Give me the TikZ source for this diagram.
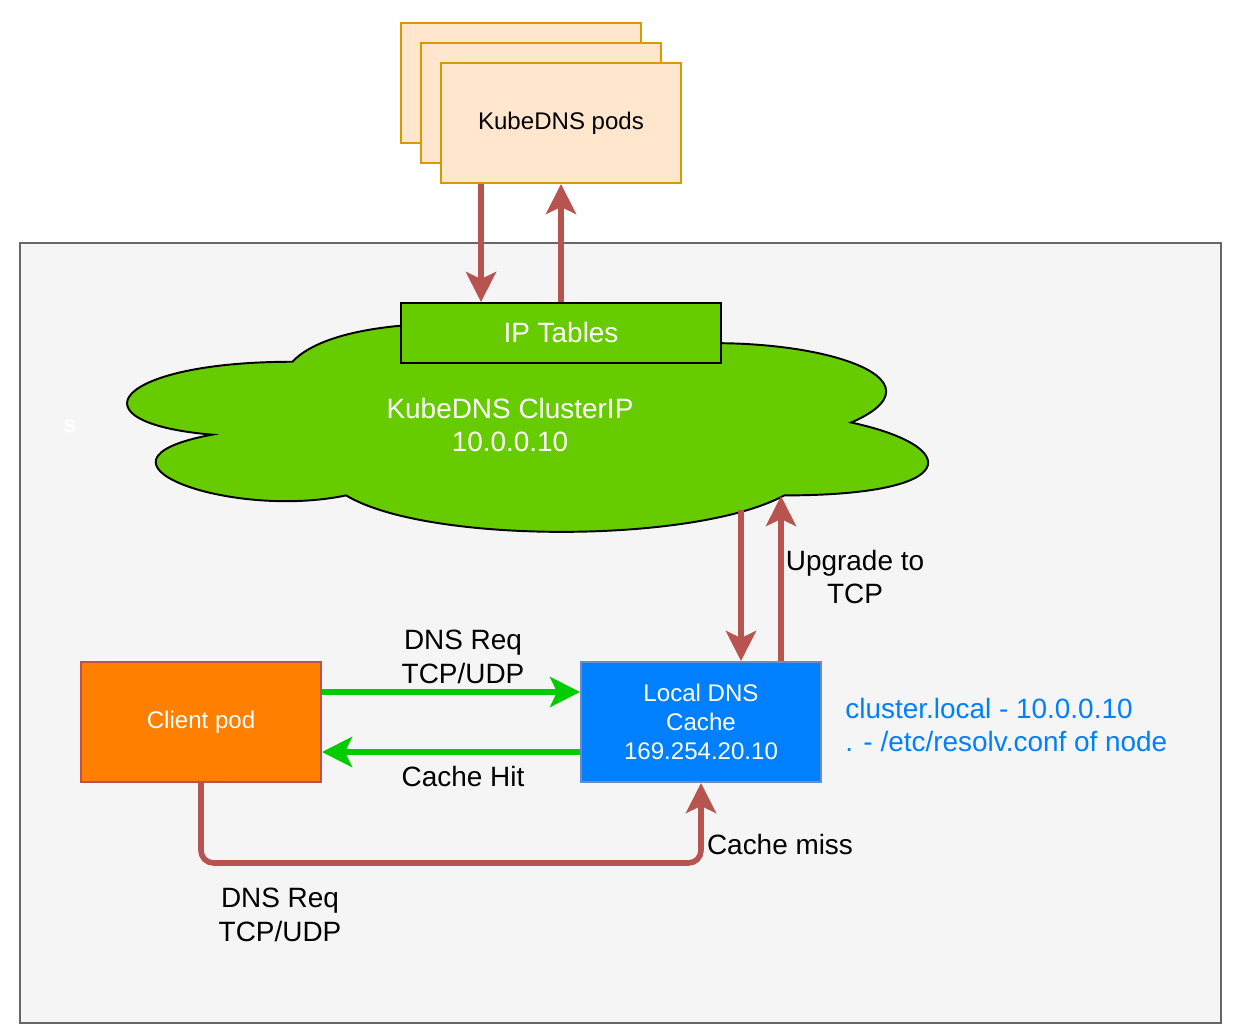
\documentclass[tikz,border=0pt]{standalone}
\usepackage{fontspec}
\setmainfont{Liberation Sans}
\usetikzlibrary{arrows.meta}

\definecolor{podfill}{HTML}{FFE6CC}
\definecolor{podline}{HTML}{D79B00}
\definecolor{nodegreen}{HTML}{66CC00}
\definecolor{clientfill}{HTML}{FF8000}
\definecolor{cachefill}{HTML}{007FFF}
\definecolor{cacheline}{HTML}{6C8EBF}
\definecolor{arrowred}{HTML}{B85450}
\definecolor{arrowgreen}{HTML}{00CC00}
\definecolor{framefill}{HTML}{F5F5F5}
\definecolor{frameline}{HTML}{666666}

\newcommand{\bigtxt}{\fontsize{15.9pt}{19.1pt}\selectfont}
\newcommand{\smalltxt}{\fontsize{13.7pt}{16.4pt}\selectfont}

\tikzset{
  box/.style={draw, line width=1.1pt, minimum width=4.8cm, minimum height=2.4cm,
    align=center, inner sep=0pt, font=\smalltxt},
  podbox/.style={box, fill=podfill, draw=podline},
  redarrow/.style={draw=arrowred, line width=3.2pt,
    -{Stealth[length=0.6cm,width=0.6cm,inset=0.14cm]}},
  greenarrow/.style={redarrow, draw=arrowgreen},
  txtlbl/.style={align=center, inner sep=0pt, font=\bigtxt}
}

\begin{document}
\begin{tikzpicture}[x=0.02cm,y=-0.02cm]
    \useasboundingbox (0,0) rectangle (1250,1028);

    % Cluster frame
    \draw[draw=frameline, fill=framefill, line width=1.1pt] (20,243) rectangle (1221,1023);
    \node[font=\smalltxt\bfseries, text=white] (stray) at (70,426) {s};

    % KubeDNS pods (stacked)
    \node[podbox] (podA) at (521,83) {};
    \node[podbox] (podB) at (541,103) {};
    \node[podbox] (podC) at (561,123) {KubeDNS pods};

    % Cloud
    \draw[fill=nodegreen, line width=1.1pt]
        (292.5,361.75) .. controls (113.7,361.75) and (69,422.5) .. (212,434.65)
        .. controls (69,461.4) and (229.9,519.7) .. (346.1,495.4)
        .. controls (426.6,544) and (694.8,544) .. (784.2,495.4)
        .. controls (963,495.4) and (963,446.8) .. (851.25,422.5)
        .. controls (963,373.9) and (784.2,325.3) .. (627.75,349.6)
        .. controls (516,313.15) and (337.2,313.15) .. (292.5,361.75) -- cycle;
    \node[txtlbl, text=white] (cloud) at (510,425) {KubeDNS ClusterIP\\10.0.0.10};
    \coordinate (cloudin) at (741,510);
    \coordinate (cloudout) at (781,496);

    % IP Tables
    \node[box, fill=nodegreen, draw=black, minimum width=6.4cm, minimum height=1.2cm,
      font=\bigtxt, text=white] (iptables) at (561,333) {IP Tables};

    % Client pod and local cache
    \node[box, fill=clientfill, draw=arrowred, text=white] (client) at (201,722) {Client pod};
    \node[box, fill=cachefill, draw=cacheline, text=white] (localdns) at (701,722)
      {Local DNS\\Cache\\169.254.20.10};

    % Pods <-> IP Tables
    \draw[redarrow] ([xshift=-1.6cm]podC.south) -- ([xshift=-1.6cm]iptables.north);
    \draw[redarrow] (iptables.north) -- (podC.south);

    % Cloud <-> local cache
    \draw[redarrow] (cloudin) -- (cloudin |- localdns.north);
    \draw[redarrow] (cloudout |- localdns.north) -- (cloudout);
    \node[txtlbl] (upgrade) at (855,577) {Upgrade to\\TCP};

    % Requests and hits
    \draw[greenarrow] ([yshift=0.6cm]client.east) -- ([yshift=0.6cm]localdns.west);
    \draw[greenarrow] ([yshift=-0.6cm]localdns.west) -- ([yshift=-0.6cm]client.east);
    \node[txtlbl] (reqtop) at (463,657) {DNS Req\\TCP/UDP};
    \node[txtlbl] (hit) at (463,777) {Cache Hit};

    % Cache miss
    \draw[redarrow, rounded corners=0.25cm] (client.south) -- ++(0,80) -| (localdns.south);
    \node[txtlbl] (miss) at (780,845) {Cache miss};
    \node[txtlbl] (reqbot) at (280,915) {DNS Req\\TCP/UDP};

    % Resolver config
    \node[txtlbl, align=left, anchor=west, text=cachefill] (resolv) at (845,725)
      {cluster.local - 10.0.0.10\\. - /etc/resolv.conf of node};

\end{tikzpicture}
\end{document}
